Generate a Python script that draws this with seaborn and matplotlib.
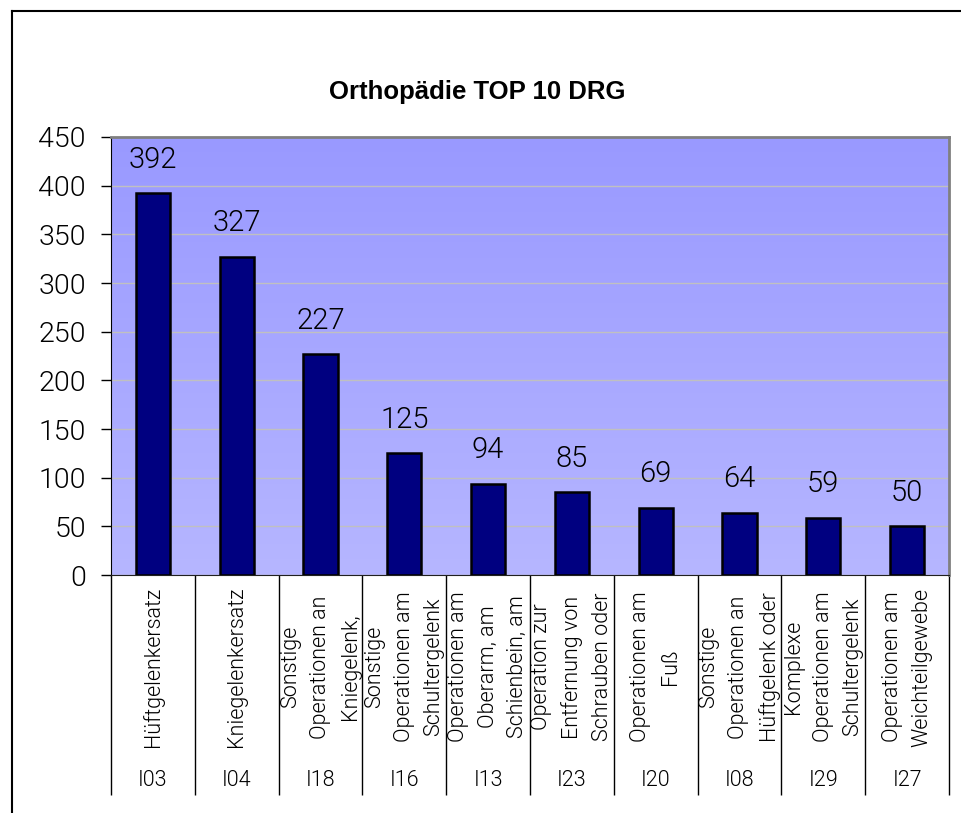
import numpy as np
import matplotlib
matplotlib.use('Agg')
import matplotlib.pyplot as plt
import seaborn as sns
from matplotlib.colors import LinearSegmentedColormap
from matplotlib.lines import Line2D

# chart data
codes = ['I03', 'I04', 'I18', 'I16', 'I13', 'I23', 'I20', 'I08', 'I29', 'I27']
labels = ['Hüftgelenkersatz',
          'Kniegelenkersatz',
          'Sonstige\nOperationen an\nKniegelenk,',
          'Sonstige\nOperationen am\nSchultergelenk',
          'Operationen am\nOberarm, am\nSchienbein, am',
          'Operation zur\nEntfernung von\nSchrauben oder',
          'Operationen am\nFuß',
          'Sonstige\nOperationen an\nHüftgelenk oder',
          'Komplexe\nOperationen am\nSchultergelenk',
          'Operationen am\nWeichteilgewebe']
cases = [392, 327, 227, 125, 94, 85, 69, 64, 59, 50]
yticks = [0, 50, 100, 150, 200, 250, 300, 350, 400, 450]

plt.rcParams['font.family'] = ['Roboto', 'DejaVu Sans']
plt.rcParams['font.weight'] = 300

fig = plt.figure(figsize=(9.61, 8.13), dpi=100)
ax = fig.add_axes([0.1155, 0.2927, 0.872, 0.5388])

# gradient plot area background
bg = LinearSegmentedColormap.from_list('bg', ['#9999FF', '#B6B6FF'])
ax.imshow(np.linspace(0, 1, 256).reshape(-1, 1), cmap=bg, aspect='auto',
          extent=[0, 1, 0, 1], transform=ax.transAxes, zorder=0)
ax.set_facecolor('none')

sns.barplot(x=codes, y=cases, color='#000080', saturation=1, width=0.41,
            edgecolor='black', linewidth=1.8, ax=ax, zorder=3)
ax.bar_label(ax.containers[0], padding=14, fontsize=21, color='black')

ax.set_xlim(-0.5, len(codes) - 0.5)
ax.set_ylim(0, 450)
ax.set_yticks(yticks)
ax.yaxis.grid(True, color='#C0C0C0', lw=1, zorder=1)
ax.set_axisbelow(True)
ax.tick_params(axis='y', direction='out', length=7, width=1, pad=11,
               labelsize=20.5, labelcolor='black')
ax.tick_params(axis='x', length=0, labelbottom=False)
ax.set_xlabel('')

ax.spines['left'].set_color('black')
ax.spines['bottom'].set_color('#202020')
for s in ['top', 'right']:
    ax.spines[s].set_color('#808080')
    ax.spines[s].set_linewidth(2)

# two level category axis
xt = ax.get_xaxis_transform()
ax.vlines(np.arange(len(codes) + 1) - 0.5, 0, -0.502, transform=xt,
          colors='black', lw=1, clip_on=False)
for i, (lab, code) in enumerate(zip(labels, codes)):
    ax.text(i, -0.21, lab, rotation=90, ha='center', va='center',
            multialignment='center', transform=xt, fontsize=15.5,
            linespacing=1.55, color='black')
    ax.text(i, -0.468, code, ha='center', va='center', transform=xt,
            fontsize=15.5, color='black')

fig.text(0.497, 0.887, 'Orthopädie TOP 10 DRG', ha='center', va='center',
         fontsize=18.5, fontweight='bold', family='Liberation Sans')

# chart border (top and left visible)
fig.add_artist(Line2D([12 / 961, 1], [1 - 11 / 813] * 2, color='black', lw=1.5))
fig.add_artist(Line2D([12 / 961] * 2, [0, 1 - 11 / 813], color='black', lw=1.5))

fig.savefig('out.png', dpi=100)
